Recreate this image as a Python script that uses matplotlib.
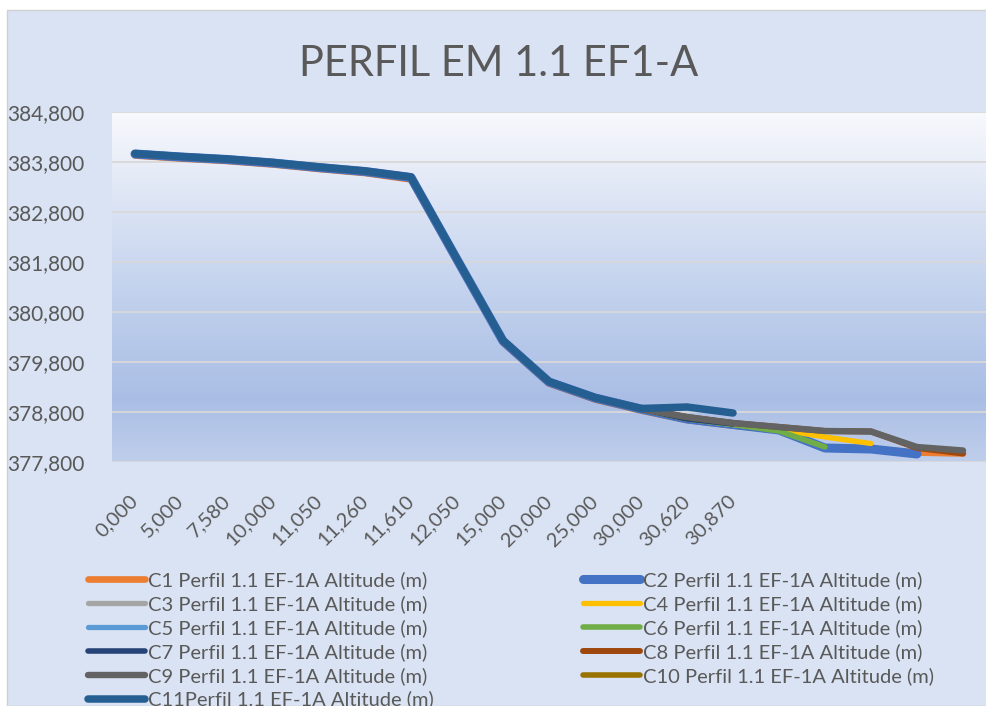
import matplotlib
matplotlib.use("Agg")
import matplotlib.pyplot as plt
from matplotlib.colors import LinearSegmentedColormap
from matplotlib.patches import Rectangle
import numpy as np

plt.rcParams['font.family'] = ['Lato', 'DejaVu Sans']

# categorias do eixo x (so 14 rotulos, a serie vai ate 19 pontos)
distancias = ['0,000', '5,000', '7,580', '10,000', '11,050', '11,260', '11,610',
              '12,050', '15,000', '20,000', '25,000', '30,000', '30,620', '30,870']
n_cat = 19

# altitudes (m)
c1 = [383.93, 383.87, 383.82, 383.75, 383.66, 383.58, 383.45, 381.82, 380.19, 379.37,
      379.05, 378.83, 378.64, 378.53, 378.43, 378.08, 378.06, 377.99, 377.97]
c2 = [383.96, 383.90, 383.85, 383.78, 383.69, 383.61, 383.49, 381.85, 380.22, 379.40,
      379.08, 378.86, 378.66, 378.55, 378.44, 378.08, 378.06, 377.96]
c3 = [383.96, 383.90, 383.85, 383.78, 383.69, 383.61, 383.49, 381.85, 380.22, 379.40,
      379.08, 378.86, 378.66, 378.55, 378.45]
c4 = [383.96, 383.90, 383.85, 383.78, 383.69, 383.61, 383.49, 381.85, 380.22, 379.40,
      379.08, 378.86, 378.66, 378.55, 378.45, 378.30, 378.17]
c5 = [383.96, 383.90, 383.85, 383.78, 383.69, 383.61, 383.49, 381.85, 380.22, 379.40,
      379.08, 378.86, 378.66, 378.55, 378.45]
c6 = [383.96, 383.90, 383.85, 383.78, 383.69, 383.61, 383.49, 381.85, 380.22, 379.40,
      379.08, 378.86, 378.66, 378.55, 378.42, 378.10]
c7 = [383.96, 383.90, 383.85, 383.78, 383.69, 383.61, 383.49, 381.85, 380.22, 379.40,
      379.08, 378.86, 378.66, 378.56]
c8 = [383.96, 383.90, 383.85, 383.78, 383.69, 383.61, 383.49, 381.85, 380.22, 379.40,
      379.08, 378.86, 378.70, 378.58, 378.50, 378.42, 378.41, 378.08, 377.97]
c9 = [383.96, 383.90, 383.85, 383.78, 383.69, 383.61, 383.49, 381.85, 380.22, 379.40,
      379.08, 378.86, 378.70, 378.58, 378.50, 378.42, 378.41, 378.10, 378.03]
c10 = [383.97, 383.91, 383.86, 383.79, 383.70, 383.62, 383.50, 381.86, 380.23, 379.41,
       379.09, 378.87]
c11 = [383.97, 383.91, 383.86, 383.79, 383.70, 383.62, 383.50, 381.86, 380.23, 379.41,
       379.09, 378.87, 378.90, 378.78]

series = [
    ('C1 Perfil 1.1 EF-1A Altitude (m)', c1, '#ED7D31', 4.8),
    ('C2 Perfil 1.1 EF-1A Altitude (m)', c2, '#4472C4', 6.5),
    ('C3 Perfil 1.1 EF-1A Altitude (m)', c3, '#A5A5A5', 3.8),
    ('C4 Perfil 1.1 EF-1A Altitude (m)', c4, '#FFC000', 3.8),
    ('C5 Perfil 1.1 EF-1A Altitude (m)', c5, '#5B9BD5', 3.8),
    ('C6 Perfil 1.1 EF-1A Altitude (m)', c6, '#70AD47', 4.0),
    ('C7 Perfil 1.1 EF-1A Altitude (m)', c7, '#264478', 4.0),
    ('C8 Perfil 1.1 EF-1A Altitude (m)', c8, '#9E480E', 4.3),
    ('C9 Perfil 1.1 EF-1A Altitude (m)', c9, '#636363', 4.6),
    ('C10 Perfil 1.1 EF-1A Altitude (m)', c10, '#997300', 4.0),
    ('C11Perfil 1.1 EF-1A Altitude (m)', c11, '#255E91', 5.4),
]

W, H = 987, 706
fig = plt.figure(figsize=(W / 100, H / 100), dpi=100, facecolor='white')

# fundo da area do grafico
fig.patches.append(Rectangle((7 / W, 0), 1 - 7 / W, 1 - 10 / H, transform=fig.transFigure,
                             facecolor='#DAE3F3', edgecolor='#D0D0D0', lw=1, zorder=-5))

ax = fig.add_axes([112 / W, 1 - 462 / H, 874 / W, 350 / H])
ax.set_zorder(1)
ax.set_xlim(-0.5, n_cat - 0.5)
ax.set_ylim(377.8, 384.8)

# gradiente do plot area
cmap = LinearSegmentedColormap.from_list('plot_bg', [
    (0.0, '#BFCEEB'), (0.18, '#AABEE5'), (0.45, '#BFCFEC'),
    (0.72, '#DAE3F4'), (0.9, '#EDF1F9'), (1.0, '#F8F9FD')])
grad = np.linspace(0, 1, 256).reshape(-1, 1)
ax.imshow(grad, extent=[-0.5, n_cat - 0.5, 377.8, 384.8], origin='lower',
          aspect='auto', cmap=cmap, zorder=0)

for s in ax.spines.values():
    s.set_visible(False)

ax.set_yticks(np.arange(377.8, 384.81, 1.0))
ax.set_yticklabels([f'{v:,.3f}'.replace('.', ',') for v in np.arange(377.8, 384.81, 1.0)])
ax.grid(axis='y', color='#D9D9D9', lw=1.3)
ax.set_axisbelow(True)

ax.set_xticks(range(n_cat))
ax.set_xticklabels(distancias + [''] * (n_cat - len(distancias)),
                   rotation=45, ha='right', va='center', rotation_mode='anchor')
ax.tick_params(axis='x', length=0, pad=26, labelsize=14.5, labelcolor='#595959')
ax.tick_params(axis='y', length=0, pad=20, labelsize=15, labelcolor='#595959')

handles = []
for nome, vals, cor, lw in series:
    h, = ax.plot(range(len(vals)), vals, color=cor, lw=lw, label=nome,
                 solid_capstyle='round', solid_joinstyle='round', zorder=2)
    handles.append(h)

fig.text(0.505, 1 - 64 / H, 'PERFIL EM 1.1 EF1-A', ha='center', va='center',
         fontsize=30, color='#595959')

leg_kw = dict(loc='upper left', frameon=False, fontsize=14.5, handlelength=2.85,
              handletextpad=0.15, labelspacing=0.3, borderpad=0, borderaxespad=0,
              labelcolor='#595959')
left = handles[0::2]
right = handles[1::2]
fig.legend(left, [h.get_label() for h in left],
           bbox_to_anchor=(88 / W, 1 - 571 / H), **leg_kw)
fig.legend(right, [h.get_label() for h in right],
           bbox_to_anchor=(583 / W, 1 - 571 / H), **leg_kw)

fig.savefig('out.png', dpi=100, facecolor='white')
